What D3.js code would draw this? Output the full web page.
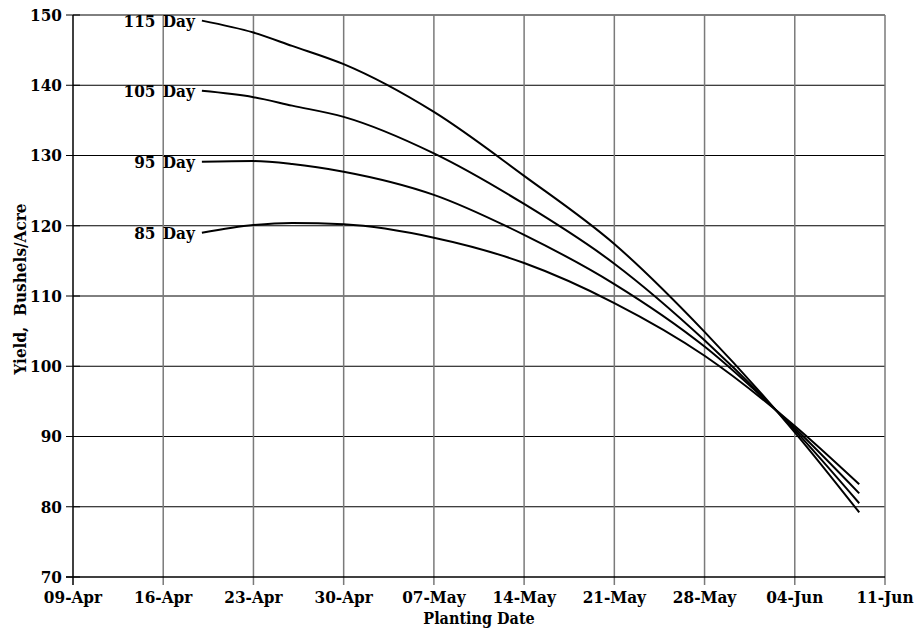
<!DOCTYPE html>
<html lang="en">
<head>
    <meta charset="UTF-8">
    <title>Yield vs Planting Date</title>
    <style>
        body { margin: 0; background: #fff; }
        text { font-family: "DejaVu Serif Condensed", "DejaVu Serif", serif; font-stretch: condensed; font-weight: bold; fill: #000; }
        .tick-label { font-size: 17px; }
        .series-label { font-size: 17px; word-spacing: 2px; }
        .axis-title { font-size: 16px; }
        .grid-v { stroke: #7a7a7a; stroke-width: 1.5px; }
        .grid-h { stroke: #000; stroke-width: 1px; }
        .axis { stroke: #000; stroke-width: 1.5px; }
        .curve { fill: none; stroke: #000; stroke-width: 2px; }
    </style>
</head>
<body>
    <script src="https://d3js.org/d3.v7.min.js"></script>
    <script>
        var width = 917;
        var height = 632;

        // planting dates (day-month), yields in bushels/acre for each hybrid maturity
        var dates = ["19-Apr", "23-Apr", "26-Apr", "30-Apr", "07-May", "14-May", "21-May", "28-May", "04-Jun", "09-Jun"];
        var day85  = [119.0, 120.1, 120.4, 120.2, 118.3, 114.7, 109.0, 101.5, 91.5, 83.2];
        var day95  = [129.1, 129.2, 128.8, 127.7, 124.4, 118.7, 111.7, 102.8, 91.2, 81.9];
        var day105 = [139.2, 138.3, 137.1, 135.5, 130.3, 123.1, 114.6, 103.7, 90.9, 80.5];
        var day115 = [149.2, 147.5, 145.6, 143.0, 136.2, 127.1, 117.4, 104.9, 90.6, 79.2];
        var seriesNames = ["85 Day", "95 Day", "105 Day", "115 Day"];
        var yTicks = [70, 80, 90, 100, 110, 120, 130, 140, 150];

        var parse = d3.timeParse("%d-%b-%Y");
        var fmt = d3.timeFormat("%d-%b");
        var start = parse("09-Apr-2001");
        var end = parse("11-Jun-2001");

        var x = d3.scaleTime().domain([start, end]).range([73, 885]);
        var y = d3.scaleLinear().domain([70, 150]).range([577, 15]);

        var xTicks = d3.timeDay.range(start, d3.timeDay.offset(end, 1), 7);

        var series = [day85, day95, day105, day115].map(function(vals, i) {
            return {
                name: seriesNames[i],
                points: vals.map(function(v, j) { return { date: parse(dates[j] + "-2001"), value: v }; })
            };
        });

        var svg = d3.select("body").append("svg")
            .attr("width", width)
            .attr("height", height);

        // grid
        svg.selectAll(".grid-h")
            .data(yTicks.slice(1))
            .enter().append("line")
            .attr("class", "grid-h")
            .attr("x1", x.range()[0]).attr("x2", x.range()[1])
            .attr("y1", function(d) { return y(d); })
            .attr("y2", function(d) { return y(d); });

        svg.selectAll(".grid-v")
            .data(xTicks.slice(1))
            .enter().append("line")
            .attr("class", "grid-v")
            .attr("x1", function(d) { return x(d); })
            .attr("x2", function(d) { return x(d); })
            .attr("y1", y.range()[1]).attr("y2", y.range()[0] + 8);

        // axes
        svg.append("line").attr("class", "axis")
            .attr("x1", x.range()[0]).attr("x2", x.range()[0])
            .attr("y1", y.range()[1]).attr("y2", y.range()[0] + 8);
        svg.append("line").attr("class", "axis")
            .attr("x1", x.range()[0] - 7).attr("x2", x.range()[1])
            .attr("y1", y.range()[0]).attr("y2", y.range()[0]);

        svg.selectAll(".ytick")
            .data(yTicks)
            .enter().append("line")
            .attr("class", "axis")
            .style("stroke-width", "1px")
            .attr("x1", x.range()[0] - 7).attr("x2", x.range()[0] + 7)
            .attr("y1", function(d) { return y(d); })
            .attr("y2", function(d) { return y(d); });

        svg.selectAll(".ylab")
            .data(yTicks)
            .enter().append("text")
            .attr("class", "tick-label")
            .attr("text-anchor", "end")
            .attr("x", 62)
            .attr("y", function(d) { return y(d); })
            .attr("dy", "0.35em")
            .text(function(d) { return d; });

        svg.selectAll(".xlab")
            .data(xTicks)
            .enter().append("text")
            .attr("class", "tick-label")
            .attr("text-anchor", "middle")
            .attr("x", function(d) { return x(d); })
            .attr("y", 603)
            .text(function(d) { return fmt(d); });

        // curves
        var line = d3.line()
            .x(function(d) { return x(d.date); })
            .y(function(d) { return y(d.value); })
            .curve(d3.curveMonotoneX);

        svg.selectAll(".curve")
            .data(series)
            .enter().append("path")
            .attr("class", "curve")
            .attr("d", function(d) { return line(d.points); });

        svg.selectAll(".series-label")
            .data(series)
            .enter().append("text")
            .attr("class", "series-label")
            .attr("text-anchor", "end")
            .attr("x", function(d) { return x(d.points[0].date) - 7; })
            .attr("y", function(d) { return y(d.points[0].value); })
            .attr("dy", "0.35em")
            .text(function(d) { return d.name; });

        // titles
        svg.append("text")
            .attr("class", "axis-title")
            .attr("text-anchor", "middle")
            .attr("x", (x.range()[0] + x.range()[1]) / 2)
            .attr("y", 624)
            .text("Planting Date");

        svg.append("text")
            .attr("class", "axis-title")
            .attr("text-anchor", "middle")
            .style("font-size", "17px")
            .attr("transform", "translate(26,289) rotate(-90)")
            .attr("xml:space", "preserve")
            .text("Yield,  Bushels/Acre");
    </script>
</body>
</html>
